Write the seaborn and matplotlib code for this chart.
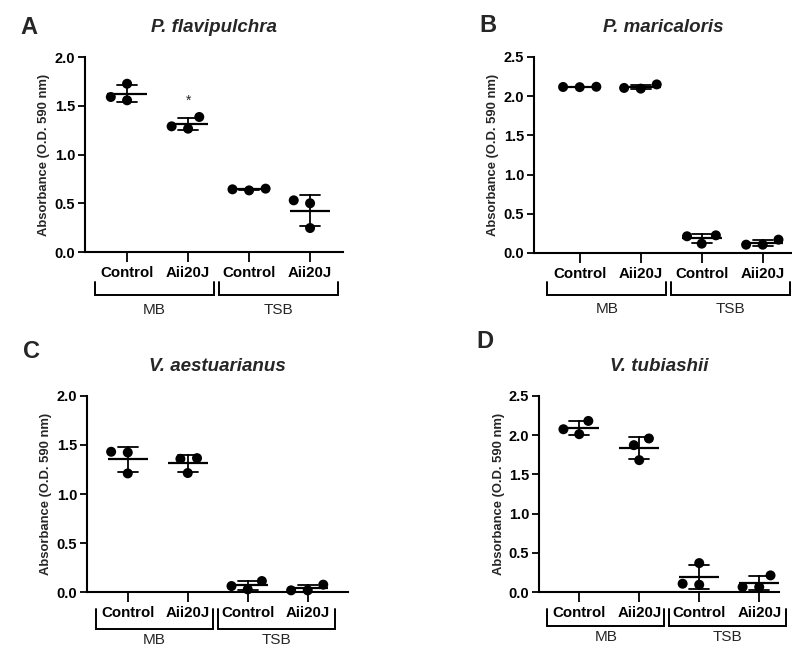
import pandas as pd
import numpy as np
import matplotlib
matplotlib.use("Agg")
import matplotlib.pyplot as plt
import matplotlib.transforms as mtransforms
import seaborn as sns
import warnings
warnings.filterwarnings('ignore')

# conditions on the x axis
media = ["MB", "MB", "TSB", "TSB"]
treatments = ["Control", "Aii20J", "Control", "Aii20J"]

# replicate absorbance readings (O.D. 590 nm), one list per condition
pf_values = [[1.726, 1.556, 1.590], [1.385, 1.265, 1.289],
             [0.632, 0.650, 0.643], [0.530, 0.500, 0.246]]
pm_values = [[2.117, 2.120, 2.115], [2.096, 2.150, 2.105],
             [0.119, 0.225, 0.213], [0.106, 0.170, 0.106]]
va_values = [[1.431, 1.424, 1.210], [1.366, 1.359, 1.214],
             [0.112, 0.027, 0.061], [0.017, 0.075, 0.017]]
vt_values = [[2.013, 2.182, 2.076], [1.958, 1.873, 1.682],
             [0.093, 0.369, 0.106], [0.064, 0.212, 0.064]]

titles = ["P. flavipulchra", "P. maricaloris", "V. aestuarianus", "V. tubiashii"]
letters = ["A", "B", "C", "D"]
y_max = [2.0, 2.5, 2.0, 2.5]
y_ticks = [[0.0, 0.5, 1.0, 1.5, 2.0], [0.0, 0.5, 1.0, 1.5, 2.0, 2.5],
           [0.0, 0.5, 1.0, 1.5, 2.0], [0.0, 0.5, 1.0, 1.5, 2.0, 2.5]]
# significance marks (condition index, label)
sig_marks = [[(1, "*")], [], [], []]

sns.set_style("ticks")
plt.rcParams['font.family'] = ['Liberation Sans', 'DejaVu Sans']

fig = plt.figure(figsize=(7.92, 6.48), dpi=100)

# layout: axes rect, xlim, bracket (top, bottom, label) in axes fraction, letter pos
layout = [
    dict(rect=[0.1073, 0.6111, 0.3258, 0.3009], xlim=(-0.69, 3.54),
         br=(-0.154, -0.22, -0.297), letter=(20 / 792, 1 - 28 / 648)),
    dict(rect=[0.6742, 0.6096, 0.3258, 0.3025], xlim=(-0.75, 3.48),
         br=(-0.148, -0.215, -0.286), letter=(479 / 792, 1 - 25 / 648)),
    dict(rect=[0.1098, 0.0864, 0.3295, 0.3025], xlim=(-0.68, 3.67),
         br=(-0.087, -0.19, -0.245), letter=(23 / 792, 1 - 351 / 648)),
    dict(rect=[0.6806, 0.0864, 0.3030, 0.3025], xlim=(-0.67, 3.33),
         br=(-0.087, -0.173, -0.23), letter=(476 / 792, 1 - 341 / 648)),
]

conds = [f"{m} {t}" for m, t in zip(media, treatments)]
all_values = [pf_values, pm_values, va_values, vt_values]

for i, values in enumerate(all_values):
    lay = layout[i]
    ax = fig.add_axes(lay["rect"])

    rows = []
    for c, reps in zip(conds, values):
        for v in reps:
            rows.append({"cond": c, "value": v})
    df = pd.DataFrame(rows)

    # transparent wide edge spreads the swarm like GraphPad does
    sns.swarmplot(data=df, x="cond", y="value", order=conds, color="black",
                  size=7.2, linewidth=4.2, edgecolor="none", ax=ax,
                  clip_on=False, zorder=3)
    sns.pointplot(data=df, x="cond", y="value", order=conds, color="black",
                  errorbar="sd", capsize=0.33, linestyle="none", marker="_",
                  markersize=29, markeredgewidth=1.6,
                  err_kws={"linewidth": 1.3}, ax=ax, zorder=4)

    ax.set_xlim(*lay["xlim"])
    ax.set_ylim(0, y_max[i])
    ax.set_yticks(y_ticks[i])
    ax.set_yticklabels([f"{t:.1f}" for t in y_ticks[i]], fontsize=10.5,
                       fontweight="bold")
    ax.set_xticks(range(len(conds)))
    ax.set_xticklabels(treatments, fontsize=10.8, fontweight="bold")
    ax.set_xlabel("")
    ax.set_ylabel("Absorbance (O.D. 590 nm)", fontsize=9.4, fontweight="bold",
                  labelpad=3)
    ax.set_title(titles[i], fontsize=13.5, fontweight="bold", style="italic", pad=18)
    sns.despine(ax=ax)
    for s in ["left", "bottom"]:
        ax.spines[s].set_linewidth(1.5)
        ax.spines[s].set_color("black")
    ax.tick_params(axis="y", length=5, width=1.3, colors="black", pad=2)
    ax.tick_params(axis="x", length=7, width=1.3, colors="black", pad=3)

    for idx, mark in sig_marks[i]:
        top = np.mean(values[idx]) + np.std(values[idx], ddof=1)
        ax.text(idx, top + 0.17, mark, ha="center", va="center", fontsize=10)

    # media brackets under the tick labels
    trans = mtransforms.blended_transform_factory(ax.transData, ax.transAxes)
    y_top, y_bot, y_lab = lay["br"]
    for name, (x0, x1) in zip(["MB", "TSB"], [(-0.53, 1.42), (1.50, 3.45)]):
        ax.plot([x0, x0, x1, x1], [y_top, y_bot, y_bot, y_top], color="black",
                lw=1.4, transform=trans, clip_on=False, solid_joinstyle="miter")
        ax.text((x0 + x1) / 2, y_lab, name, transform=trans, ha="center",
                va="center", fontsize=11)

    fig.text(lay["letter"][0], lay["letter"][1], letters[i], fontsize=17,
             fontweight="bold", ha="left", va="center")

fig.savefig("out.png", dpi=100)
